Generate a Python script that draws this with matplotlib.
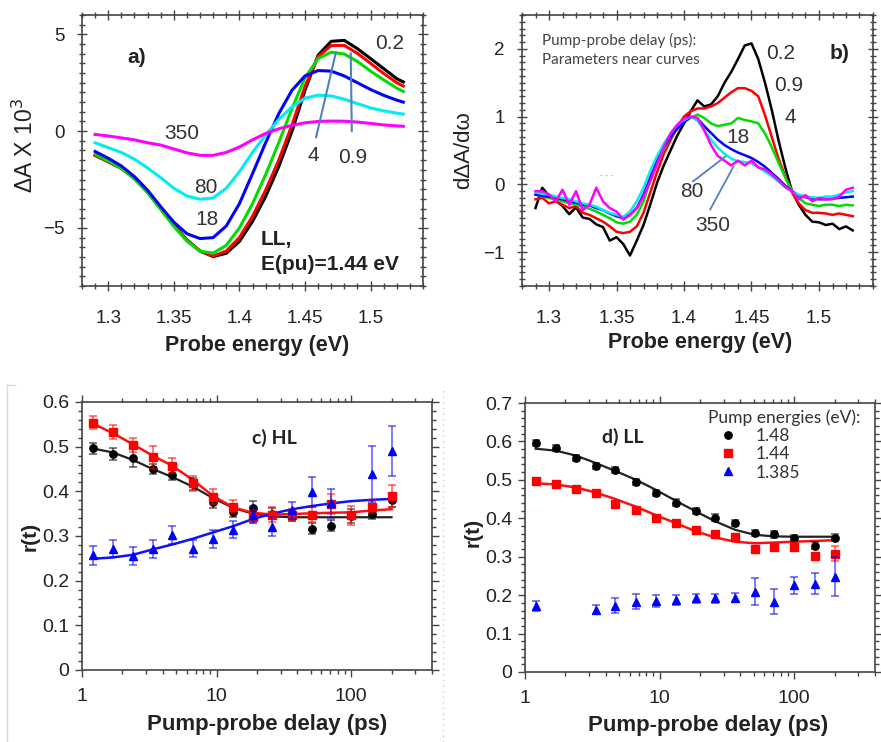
import matplotlib
matplotlib.use("Agg")
import matplotlib.pyplot as plt
from matplotlib.lines import Line2D
from matplotlib.ticker import MultipleLocator, LogLocator, NullFormatter
import numpy as np

plt.rcParams['font.family'] = ['Liberation Sans', 'DejaVu Sans']
plt.rcParams['axes.unicode_minus'] = True

# ---- panel a: transient absorption spectra, delay (ps) -> curve
E_a = [1.29, 1.30, 1.31, 1.32, 1.33, 1.34, 1.35, 1.36, 1.37, 1.38, 1.39, 1.40,
       1.41, 1.42, 1.43, 1.44, 1.45, 1.46, 1.47, 1.48, 1.49, 1.50, 1.51, 1.52, 1.525]
dA_02 = [-1.24, -1.58, -1.92, -2.44, -3.13, -3.99, -4.85, -5.62, -6.19, -6.48, -6.31, -5.70,
         -4.67, -3.38, -1.84, -0.03, 2.11, 3.92, 4.64, 4.69, 4.26, 3.75, 3.23, 2.71, 2.54]
dA_09 = [-1.26, -1.58, -1.92, -2.46, -3.15, -4.00, -4.87, -5.64, -6.20, -6.45, -6.20, -5.50,
         -4.40, -3.05, -1.50, 0.30, 2.30, 3.85, 4.42, 4.43, 4.02, 3.50, 2.98, 2.50, 2.33]
dA_4 = [-1.20, -1.55, -1.92, -2.47, -3.18, -4.05, -4.92, -5.68, -6.20, -6.30, -5.90, -5.00,
        -3.75, -2.25, -0.60, 1.15, 2.75, 3.75, 4.08, 3.98, 3.60, 3.10, 2.65, 2.22, 2.05]
dA_18 = [-1.05, -1.40, -1.80, -2.35, -3.05, -3.90, -4.70, -5.30, -5.55, -5.50, -4.90, -3.75,
         -2.20, -0.60, 0.90, 2.10, 2.85, 3.13, 3.10, 2.85, 2.50, 2.15, 1.85, 1.60, 1.50]
dA_80 = [-0.60, -0.85, -1.10, -1.45, -1.90, -2.40, -2.95, -3.35, -3.52, -3.45, -2.95, -2.10,
         -1.10, -0.20, 0.60, 1.25, 1.70, 1.86, 1.82, 1.65, 1.42, 1.20, 1.05, 0.93, 0.88]
dA_350 = [-0.17, -0.25, -0.35, -0.45, -0.60, -0.72, -0.92, -1.12, -1.25, -1.25, -1.10, -0.82,
          -0.45, -0.12, 0.12, 0.30, 0.43, 0.50, 0.52, 0.51, 0.47, 0.40, 0.32, 0.27, 0.25]

# ---- panel b: normalised derivative spectra
E_b = [1.290, 1.295, 1.300, 1.305, 1.310, 1.315, 1.320, 1.325, 1.330, 1.335, 1.340, 1.345,
       1.350, 1.355, 1.360, 1.365, 1.370, 1.375, 1.380, 1.385, 1.390, 1.395, 1.400, 1.405,
       1.410, 1.415, 1.420, 1.425, 1.430, 1.435, 1.440, 1.445, 1.450, 1.455, 1.460, 1.465,
       1.470, 1.475, 1.480, 1.485, 1.490, 1.495, 1.500, 1.505, 1.510, 1.515, 1.520, 1.525]
dd_02 = [-0.35, -0.05, -0.17, -0.24, -0.32, -0.44, -0.34, -0.49, -0.51, -0.59, -0.63, -0.83,
         -0.78, -0.88, -1.05, -0.83, -0.60, -0.30, 0.02, 0.28, 0.50, 0.72, 0.90, 1.08,
         1.24, 1.15, 1.18, 1.30, 1.50, 1.66, 1.85, 2.05, 2.08, 1.85, 1.50, 1.10,
         0.65, 0.25, -0.10, -0.30, -0.45, -0.55, -0.56, -0.60, -0.58, -0.66, -0.62, -0.68]
dd_09 = [-0.22, -0.20, -0.28, -0.25, -0.30, -0.35, -0.32, -0.42, -0.45, -0.50, -0.55, -0.62,
         -0.70, -0.72, -0.70, -0.62, -0.42, -0.12, 0.18, 0.45, 0.65, 0.85, 1.00, 1.08,
         1.12, 1.12, 1.15, 1.20, 1.28, 1.36, 1.42, 1.42, 1.38, 1.30, 1.02, 0.70,
         0.38, 0.12, -0.12, -0.28, -0.38, -0.42, -0.42, -0.43, -0.45, -0.43, -0.45, -0.47]
dd_4 = [-0.15, -0.18, -0.20, -0.22, -0.25, -0.28, -0.30, -0.33, -0.36, -0.40, -0.45, -0.50,
        -0.56, -0.58, -0.55, -0.45, -0.25, 0.05, 0.30, 0.52, 0.70, 0.82, 0.92, 0.98,
        1.03, 0.98, 0.90, 0.86, 0.88, 0.90, 0.98, 0.95, 0.93, 0.90, 0.75, 0.55,
        0.32, 0.10, -0.10, -0.20, -0.28, -0.30, -0.32, -0.30, -0.30, -0.32, -0.30, -0.31]
dd_18 = [-0.15, -0.17, -0.18, -0.20, -0.22, -0.25, -0.27, -0.30, -0.31, -0.35, -0.38, -0.43,
         -0.47, -0.50, -0.45, -0.35, -0.15, 0.10, 0.35, 0.55, 0.70, 0.82, 0.92, 1.00,
         0.97, 0.86, 0.76, 0.66, 0.58, 0.52, 0.47, 0.43, 0.39, 0.33, 0.26, 0.17,
         0.08, -0.02, -0.10, -0.16, -0.19, -0.21, -0.22, -0.22, -0.21, -0.20, -0.19, -0.18]
dd_80 = [-0.12, -0.14, -0.15, -0.18, -0.20, -0.22, -0.25, -0.28, -0.30, -0.33, -0.38, -0.42,
         -0.45, -0.48, -0.40, -0.25, -0.05, 0.20, 0.42, 0.60, 0.75, 0.88, 0.95, 1.00,
         0.94, 0.80, 0.66, 0.54, 0.45, 0.38, 0.34, 0.33, 0.31, 0.25, 0.19, 0.12,
         0.04, -0.04, -0.11, -0.15, -0.18, -0.19, -0.20, -0.18, -0.18, -0.15, -0.12, -0.10]
dd_350 = [-0.10, -0.10, -0.15, -0.25, -0.08, -0.30, -0.10, -0.38, -0.30, -0.05, -0.25, -0.35,
          -0.40, -0.52, -0.45, -0.35, -0.18, 0.05, 0.30, 0.55, 0.75, 0.88, 0.97, 1.00,
          0.98, 0.80, 0.58, 0.42, 0.35, 0.28, 0.35, 0.28, 0.35, 0.25, 0.22, 0.15,
          0.06, -0.04, -0.10, -0.22, -0.16, -0.25, -0.20, -0.22, -0.22, -0.18, -0.08, -0.05]

delays_lbl = ['0.2', '0.9', '4', '18', '80', '350']
line_cols = ['#000000', '#ff0000', '#00dd00', '#0000ff', '#00eeee', '#ff00ff']

# ---- panels c, d: r(t) vs pump-probe delay
t = [1.2, 1.7, 2.4, 3.35, 4.7, 6.7, 9.4, 13.3, 18.6, 26, 36.5, 51, 71, 100, 142, 200]
nan = np.nan

hl_148 = [0.496, 0.483, 0.475, 0.450, 0.437, 0.416, 0.377, 0.354, 0.363, 0.350, 0.345, 0.316, 0.323, 0.345, 0.350, 0.380]
hl_148_err = [0.013, 0.013, 0.020, 0.012, 0.012, 0.013, 0.015, 0.012, 0.015, 0.012, 0.012, 0.012, 0.012, 0.015, 0.013, 0.015]
hl_144 = [0.554, 0.533, 0.504, 0.476, 0.457, 0.418, 0.388, 0.366, 0.343, 0.348, 0.347, 0.348, 0.371, 0.346, 0.366, 0.390]
hl_144_err = [0.015, 0.016, 0.016, 0.026, 0.017, 0.017, 0.017, 0.015, 0.015, 0.017, 0.014, 0.017, 0.022, 0.022, 0.015, 0.024]
hl_1385 = [0.257, 0.271, 0.256, 0.271, 0.302, 0.272, 0.293, 0.314, 0.347, 0.321, 0.358, 0.399, 0.373, nan, 0.439, 0.491]
hl_1385_err = [0.021, 0.019, 0.020, 0.020, 0.021, 0.018, 0.020, 0.019, 0.017, 0.022, 0.019, 0.034, 0.032, nan, 0.062, 0.056]
hl_148_fit = [0.496, 0.487, 0.470, 0.450, 0.432, 0.410, 0.385, 0.363, 0.350, 0.344, 0.342, 0.342, 0.342, 0.342, 0.342, 0.342]
hl_144_fit = [0.552, 0.530, 0.505, 0.480, 0.457, 0.425, 0.390, 0.364, 0.352, 0.348, 0.349, 0.351, 0.352, 0.353, 0.357, 0.360]
hl_1385_fit = [0.249, 0.252, 0.258, 0.270, 0.281, 0.294, 0.308, 0.322, 0.338, 0.350, 0.360, 0.367, 0.373, 0.378, 0.381, 0.383]

ll_148 = [0.595, 0.584, 0.556, 0.537, 0.526, 0.494, 0.465, 0.441, 0.419, 0.402, 0.387, 0.361, 0.358, 0.348, 0.329, 0.350]
ll_148_err = [0.008, 0.008, 0.008, 0.008, 0.008, 0.008, 0.008, 0.008, 0.008, 0.008, 0.008, 0.008, 0.008, 0.008, 0.008, 0.010]
ll_144 = [0.497, 0.488, 0.476, 0.465, 0.436, 0.421, 0.400, 0.387, 0.370, 0.358, 0.352, 0.320, 0.326, 0.326, 0.302, 0.308]
ll_144_err = [0.006, 0.006, 0.006, 0.006, 0.006, 0.006, 0.006, 0.006, 0.006, 0.006, 0.008, 0.008, 0.008, 0.012, 0.008, 0.020]
ll_1385 = [0.173, nan, nan, 0.162, 0.173, 0.183, 0.185, 0.187, 0.192, 0.192, 0.193, 0.209, 0.183, 0.226, 0.230, 0.248]
ll_1385_err = [0.013, nan, nan, 0.012, 0.020, 0.020, 0.015, 0.013, 0.012, 0.012, 0.012, 0.035, 0.032, 0.022, 0.028, 0.050]
ll_148_fit = [0.581, 0.576, 0.563, 0.544, 0.523, 0.500, 0.474, 0.445, 0.418, 0.392, 0.370, 0.357, 0.353, 0.352, 0.352, 0.352]
ll_144_fit = [0.491, 0.488, 0.480, 0.467, 0.450, 0.430, 0.408, 0.387, 0.366, 0.350, 0.339, 0.335, 0.337, 0.339, 0.341, 0.343]

TXT = '#333333'
SP = '#444444'
SMALL = ['Lato', 'DejaVu Sans']

fig = plt.figure(figsize=(8.81, 7.42), dpi=100)
W, H = 881.0, 742.0


def box(l, t_, r, b):
    return [l / W, 1 - b / H, (r - l) / W, (b - t_) / H]


def style(ax, direction):
    for s in ax.spines.values():
        s.set_color(SP)
        s.set_linewidth(1.2)
    ax.tick_params(which='both', direction=direction, top=True, right=True,
                   colors=SP, labelcolor='#222222', labelsize=13.5, width=1)
    ax.tick_params(which='major', length=7)
    ax.tick_params(which='minor', length=4)


ax_a = fig.add_axes(box(82, 15, 423, 286))
ax_b = fig.add_axes(box(522, 15, 873, 286))
ax_c = fig.add_axes(box(82, 402, 432, 670))
ax_d = fig.add_axes(box(525, 403, 875, 672))

# ---------------- a
for y, c in zip([dA_02, dA_09, dA_4, dA_18, dA_80, dA_350], line_cols):
    ax_a.plot(E_a, y, color=c, lw=2.2, solid_joinstyle='round')
ax_a.set_xlim(1.28, 1.54)
ax_a.set_ylim(-8, 6)
ax_a.set_xticks([1.3, 1.35, 1.4, 1.45, 1.5])
ax_a.set_xticklabels(['1.3', '1.35', '1.4', '1.45', '1.5'])
ax_a.set_yticks([-5, 0, 5])
ax_a.xaxis.set_minor_locator(MultipleLocator(0.01))
ax_a.yaxis.set_minor_locator(MultipleLocator(0.5))
style(ax_a, 'inout')
ax_a.tick_params(axis='x', pad=14)
ax_a.tick_params(axis='y', pad=9)
ax_a.set_xlabel('Probe energy (eV)', fontsize=15.5, fontweight='bold', color='#222222', va='center')
ax_a.xaxis.set_label_coords(0.513, -0.218)
ax_a.set_ylabel('ΔA X 10$^3$', fontsize=16.5, color='#222222', va='center')
ax_a.yaxis.set_label_coords(-0.165, 0.52)

ax_a.text(1.3219, 3.81, 'a)', fontsize=15, fontweight='bold', ha='center', va='center', color='#222222')
for s, x, y in zip(delays_lbl, [1.5143, 1.4864, 1.4562, 1.3755, 1.3747, 1.3558],
                   [4.54, -1.34, -1.24, -4.59, -2.89, -0.10]):
    ax_a.text(x, y, s, fontsize=15, ha='center', va='center', color=TXT)
ax_a.plot([1.4585, 1.4736], [-0.31, 4.07], color='#4f81bd', lw=1.5)
ax_a.plot([1.4857, 1.4849], [0.0, 4.02], color='#4f81bd', lw=1.5)
ax_a.text(1.4162, -5.62, 'LL,', fontsize=15, fontweight='bold', va='center', color='#222222')
ax_a.text(1.4162, -6.90, 'E(pu)=1.44 eV', fontsize=15, fontweight='bold', va='center', color='#222222')

# ---------------- b
for y, c in zip([dd_02, dd_09, dd_4, dd_18, dd_80, dd_350], line_cols):
    ax_b.plot(E_b, y, color=c, lw=1.8)
ax_b.set_xlim(1.28, 1.54)
ax_b.set_ylim(-1.5, 2.5)
ax_b.set_xticks([1.3, 1.35, 1.4, 1.45, 1.5])
ax_b.set_xticklabels(['1.3', '1.35', '1.4', '1.45', '1.5'])
ax_b.set_yticks([-1, 0, 1, 2])
ax_b.xaxis.set_minor_locator(MultipleLocator(0.01))
ax_b.yaxis.set_minor_locator(MultipleLocator(0.1))
style(ax_b, 'inout')
ax_b.tick_params(axis='x', pad=14)
ax_b.tick_params(axis='y', pad=9)
ax_b.set_xlabel('Probe energy (eV)', fontsize=15.5, fontweight='bold', color='#222222', va='center')
ax_b.xaxis.set_label_coords(0.507, -0.210)
ax_b.set_ylabel('dΔA/dω', fontsize=16, color='#222222', va='center')
ax_b.yaxis.set_label_coords(-0.165, 0.502)

ax_b.text(1.2948, 2.12, 'Pump-probe delay (ps):', fontsize=11, family=SMALL,
          va='center', color='#444444')
ax_b.text(1.2948, 1.83, 'Parameters near curves', fontsize=11, family=SMALL,
          va='center', color='#444444')
ax_b.text(1.515, 1.93, 'b)', fontsize=15, fontweight='bold', ha='center', va='center', color='#222222')
for s, x, y in zip(delays_lbl, [1.4716, 1.4776, 1.479, 1.4403, 1.406, 1.4216],
                   [1.93, 1.46, 0.98, 0.69, -0.10, -0.61]):
    ax_b.text(x, y, s, fontsize=15, ha='center', va='center', color=TXT)
ax_b.plot([1.4067, 1.4306], [0.044, 0.41], color='#4f81bd', lw=1.3)
ax_b.plot([1.4194, 1.4366], [-0.37, 0.26], color='#4f81bd', lw=1.3)
ax_b.text(1.3425, 0.13, '- - -', fontsize=6, ha='center', va='center', color='#999999')

# ---------------- c, d
def delay_axes(ax, ymax):
    ax.set_xscale('log')
    ax.set_xlim(1, 400)
    ax.set_ylim(0, ymax)
    ax.set_xticks([1, 10, 100])
    ax.set_xticklabels(['1', '10', '100'])
    ax.xaxis.set_minor_locator(LogLocator(base=10, subs=np.arange(2, 10)))
    ax.xaxis.set_minor_formatter(NullFormatter())
    yt = np.round(np.arange(0, ymax + 0.001, 0.1), 1)
    ax.set_yticks(yt)
    ax.set_yticklabels(['0'] + ['%.1f' % v for v in yt[1:]])
    ax.yaxis.set_minor_locator(MultipleLocator(0.02))
    style(ax, 'out')
    ax.tick_params(which='major', length=5)
    ax.tick_params(which='minor', length=3)
    ax.tick_params(axis='x', pad=8)
    ax.tick_params(axis='y', pad=4)
    ax.tick_params(labelsize=14)
    ax.set_xlabel('Pump-probe delay (ps)', fontsize=16, fontweight='bold', color='#222222', va='center')
    ax.set_ylabel('r(t)', fontsize=15, fontweight='bold', color='#222222', va='center')


def points(ax, y, e, col, mk, ms, lab=None):
    ax.errorbar(t, y, yerr=e, fmt='none', ecolor=col, alpha=0.55, elinewidth=1.3, capsize=3, capthick=1.3)
    ax.plot(t, y, mk, color=col, ms=ms, ls='none', label=lab)


delay_axes(ax_c, 0.6)
ax_c.xaxis.set_label_coords(0.528, -0.205)
ax_c.yaxis.set_label_coords(-0.149, 0.50)
ax_c.plot(t, hl_148_fit, color='#222222', lw=1.6)
ax_c.plot(t, hl_144_fit, color='#ff1010', lw=1.8)
ax_c.plot(t, hl_1385_fit, color='#1010ff', lw=1.8)
points(ax_c, hl_148, hl_148_err, '#000000', 'o', 5.3)
points(ax_c, hl_144, hl_144_err, '#ff0000', 's', 5.3)
points(ax_c, hl_1385, hl_1385_err, '#0000ff', '^', 6.3)
ax_c.text(0.551, 0.866, 'c) HL', transform=ax_c.transAxes, fontsize=14, fontweight='bold',
          family=SMALL, ha='center', va='center', color='#222222')

delay_axes(ax_d, 0.7)
ax_d.xaxis.set_label_coords(0.523, -0.200)
ax_d.yaxis.set_label_coords(-0.149, 0.517)
ax_d.plot(t, ll_148_fit, color='#222222', lw=1.6)
ax_d.plot(t, ll_144_fit, color='#ff1010', lw=1.8)
points(ax_d, ll_148, ll_148_err, '#000000', 'o', 5.3, '1.48')
points(ax_d, ll_144, ll_144_err, '#ff0000', 's', 5.3, '1.44')
points(ax_d, ll_1385, ll_1385_err, '#0000ff', '^', 6.3, '1.385')
ax_d.text(0.28, 0.874, 'd) LL', transform=ax_d.transAxes, fontsize=14, fontweight='bold',
          family=SMALL, ha='center', va='center', color='#222222')
leg = ax_d.legend(loc='upper left', bbox_to_anchor=(0.523, 0.975), frameon=False,
                  title='Pump energies (eV):', prop={'family': SMALL, 'size': 12.5},
                  title_fontproperties={'family': SMALL, 'size': 12.5},
                  handlelength=2.3, handletextpad=0.45, labelspacing=0.12, borderaxespad=0,
                  borderpad=0)
leg._legend_box.align = 'left'
for txt in leg.get_texts():
    txt.set_color('#333333')
leg.get_title().set_color('#333333')

# faint crop marks at the left of the lower panels
fig.add_artist(Line2D([7 / W, 7 / W], [0, 1 - 385 / H], color='#d8d8d8', lw=1))
fig.add_artist(Line2D([7 / W, 15 / W], [1 - 385 / H, 1 - 385 / H], color='#d8d8d8', lw=1))
fig.add_artist(Line2D([443 / W, 443 / W], [0, 1 - 388 / H], color='#cccccc', lw=1, ls=(0, (1, 3))))

fig.savefig('out.png', dpi=100)
